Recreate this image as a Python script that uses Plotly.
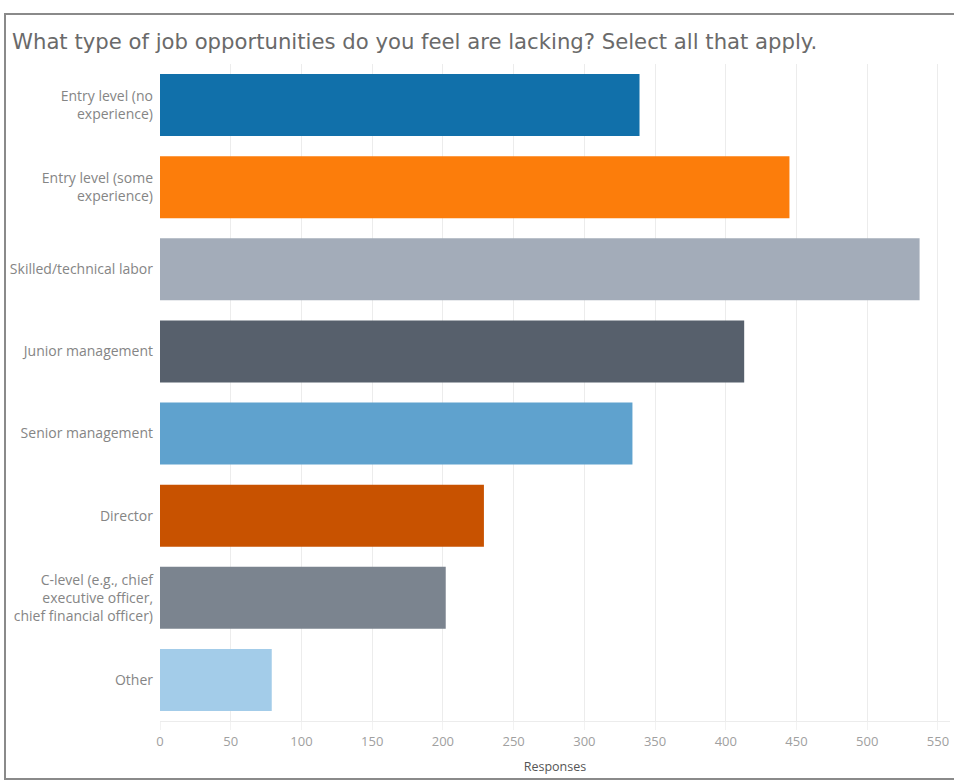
import plotly.graph_objects as go

categories = [
    "Entry level (no<br>experience)",
    "Entry level (some<br>experience)",
    "Skilled/technical labor",
    "Junior management",
    "Senior management",
    "Director",
    "C-level (e.g., chief<br>executive officer,<br>chief financial officer)",
    "Other",
]
responses = [339, 445, 537, 413, 334, 229, 202, 79]
bar_colors = ["#1170aa", "#fc7d0b", "#a3acb9", "#57606c",
              "#5fa2ce", "#c85200", "#7b848f", "#a3cce9"]
x_ticks = list(range(0, 551, 50))

W, H = 954, 783
L, R, T, B = 160, 950, 64, 721

FONT = "'Open Sans', 'Noto Sans', sans-serif"

fig = go.Figure(go.Bar(
    x=responses,
    y=categories,
    orientation="h",
    marker=dict(color=bar_colors, line=dict(width=0)),
    hoverinfo="x+y",
))

fig.update_layout(
    width=W, height=H,
    margin=dict(l=L, r=W - R, t=T, b=H - B, pad=0),
    paper_bgcolor="white",
    plot_bgcolor="white",
    bargap=0.245,
    showlegend=False,
    font=dict(family=FONT),
    title=dict(
        text="What type of job opportunities do you feel are lacking? Select all that apply.",
        x=12 / W, xanchor="left", xref="container",
        y=1 - 42 / H, yanchor="middle", yref="container",
        font=dict(size=21.2, color="#6a6a6a", family="'DejaVu Sans', sans-serif"),
    ),
    xaxis=dict(
        range=[0, (R - L) / 1.4145],
        tickvals=x_ticks,
        showgrid=True, gridcolor="#ececec", gridwidth=1,
        zeroline=False,
        showline=True, linecolor="#ececec", linewidth=1,
        tickfont=dict(size=13, color="#a0a0a0"),
        ticks="outside", ticklen=8, tickcolor="#f2f2f2",
        title=dict(text="Responses", font=dict(size=12.5, color="#555555"), standoff=13),
    ),
    yaxis=dict(
        autorange="reversed",
        showgrid=False, zeroline=False, showline=False,
        tickfont=dict(size=14, color="#858585"),
        ticks="", ticklabelstandoff=6,
    ),
)

# outer frame around the worksheet
def px(x):
    return (x - L) / (R - L)

def py(y):
    return (B - y) / (B - T)

fig.add_shape(type="rect", xref="paper", yref="paper",
              x0=px(5), x1=px(960), y0=py(779), y1=py(14),
              line=dict(color="#8a8a8a", width=2), fillcolor="rgba(0,0,0,0)", layer="above")

fig.write_html("out.html")
